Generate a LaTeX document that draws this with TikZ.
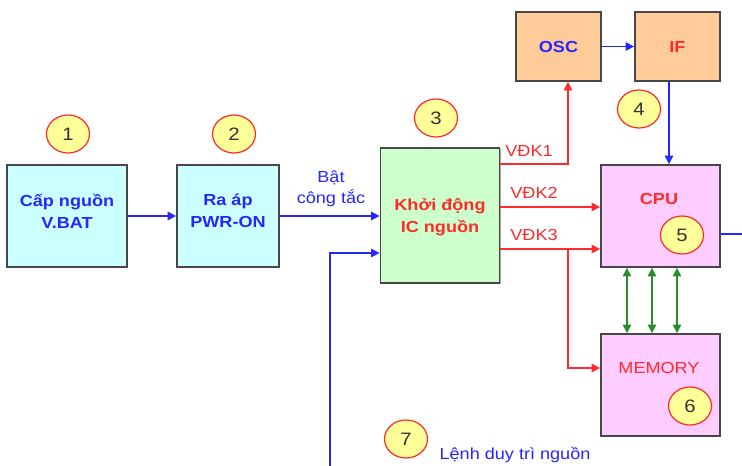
\documentclass[tikz,border=0pt]{standalone}
\usepackage{fontspec}
\setmainfont{Liberation Sans}[FakeStretch=1.13]
\usetikzlibrary{arrows.meta,calc,shadows,shapes.geometric}
\definecolor{lblue}{HTML}{2626FF}
\definecolor{lred}{HTML}{FF2A2A}
\definecolor{lgreen}{HTML}{2A8C2A}
\definecolor{cyanfill}{HTML}{CCFFFF}
\definecolor{greenfill}{HTML}{CCFFCC}
\definecolor{peachfill}{HTML}{FFCC99}
\definecolor{pinkfill}{HTML}{FFCCFF}
\definecolor{circfill}{HTML}{FFFF99}
\definecolor{boxline}{HTML}{474747}
\begin{document}
\begin{tikzpicture}[x=1pt,y=-1pt,
  blockbox/.style={draw=boxline,line width=1.8pt,inner sep=0pt,
    drop shadow={shadow xshift=1.2pt,shadow yshift=-1.2pt,opacity=.35,fill=black}},
  numcirc/.style={ellipse,draw=lred,line width=1.2pt,fill=circfill,minimum width=43pt,
    minimum height=38pt,inner sep=0pt,font=\fontsize{18}{20}\selectfont,text=black!80},
  btxt/.style={font=\fontsize{16}{22}\selectfont\bfseries,align=center},
  rtxt/.style={font=\fontsize{16}{20}\selectfont,align=center},
  tip/.style={Triangle[length=8.5pt,width=8.5pt]},
  bluearrow/.style={lblue,line width=1.3pt,-{Triangle[length=8.5pt,width=8.5pt]}},
  redarrow/.style={lred,line width=1.3pt,-{Triangle[length=8.5pt,width=8.5pt]}},
  greenarrow/.style={lgreen,line width=1.3pt,{Triangle[length=8.5pt,width=8.5pt]}-{Triangle[length=8.5pt,width=8.5pt]}}]
\useasboundingbox (0,0) rectangle (742,466);
\fill[white] (0,0) rectangle (742,466);

% blocks
\node[blockbox,fill=cyanfill,minimum width=120pt,minimum height=102pt] (b1) at (67,216) {};
\node[blockbox,fill=cyanfill,minimum width=102pt,minimum height=102pt] (b2) at (228,216) {};
\node[blockbox,fill=greenfill,minimum width=119pt,minimum height=135pt] (b3) at (440,215.5) {};
\node[blockbox,fill=peachfill,minimum width=85pt,minimum height=69pt] (osc) at (558.5,46.5) {};
\node[blockbox,fill=peachfill,minimum width=85pt,minimum height=69pt] (if) at (677.5,46.5) {};
\node[blockbox,fill=pinkfill,minimum width=119pt,minimum height=102pt] (cpu) at (660.5,216) {};
\node[blockbox,fill=pinkfill,minimum width=119pt,minimum height=102pt] (mem) at (660.5,385) {};

% block texts
\node[btxt,text=lblue] (t1) at (67,211) {Cấp nguồn\\V.BAT};
\node[btxt,text=lblue] (t2) at (228,211) {Ra áp\\PWR-ON};
\node[btxt,text=lred] (t3) at (440,217) {Khởi động\\IC nguồn};
\node[btxt,text=lblue] (tosc) at (558.5,47) {OSC};
\node[btxt,text=lred] (tif) at (677.5,47) {IF};
\node[btxt,text=lred] (tcpu) at (659,199) {CPU};
\node[rtxt,text=lred] (tmem) at (659,368) {MEMORY};

% number circles
\node[numcirc] (c1) at (68,134) {1};
\node[numcirc] (c2) at (234,134) {2};
\node[numcirc] (c3) at (436,118) {3};
\node[numcirc] (c4) at (639,109) {4};
\node[numcirc] (c5) at (682,235) {5};
\node[numcirc] (c6) at (690,406) {6};
\node[numcirc] (c7) at (406,439) {7};

% connectors
\draw[bluearrow] (b1) -- (b2);
\draw[bluearrow] (b2.east) -- (b2.east -| b3.west);
\node[rtxt,text=lblue,font=\fontsize{16}{21}\selectfont] (lbat) at (331,189) {Bật\\công tắc};

\coordinate (l7start) at (330,466);
\coordinate (l7in) at ($(b3.west)+(0,37.5)$);
\draw[bluearrow] (l7start) |- (l7in);
\node[rtxt,text=lblue] (l7txt) at (515,455) {Lệnh duy trì nguồn};

\draw[bluearrow] (osc) -- (if);
\coordinate (ifout) at ($(if.south)+(-8.5,0)$);
\draw[bluearrow] (ifout) -- (ifout |- cpu.north);

\coordinate (cpuout) at (742,234);
\draw[lblue,line width=1.3pt] (cpuout -| cpu.east) -- (cpuout);

\coordinate (v1) at ($(b3.north east)+(0,17)$);
\coordinate (v1up) at ($(osc.south)+(9.5,0)$);
\draw[redarrow] (v1) -| (v1up);
\node[rtxt,text=lred] (lv1) at (529,151) {VĐK1};

\coordinate (v2) at ($(b3.east)+(0,-8.5)$);
\draw[redarrow] (v2) -- (v2 -| cpu.west);
\node[rtxt,text=lred] (lv2) at (534,193) {VĐK2};

\coordinate (v3) at ($(b3.east)+(0,33.5)$);
\draw[redarrow] (v3) -- (v3 -| cpu.west);
\node[rtxt,text=lred] (lv3) at (534,235) {VĐK3};
\coordinate (v3br) at (568,249);
\coordinate (memin) at ($(mem.west)+(0,-17)$);
\draw[redarrow] (v3br) |- (memin);

\foreach \dx in {-33.5,-8.5,16.5}{
  \draw[greenarrow] ($(cpu.south)+(\dx,0)$) -- ($(mem.north)+(\dx,0)$);
}
\end{tikzpicture}
\end{document}
